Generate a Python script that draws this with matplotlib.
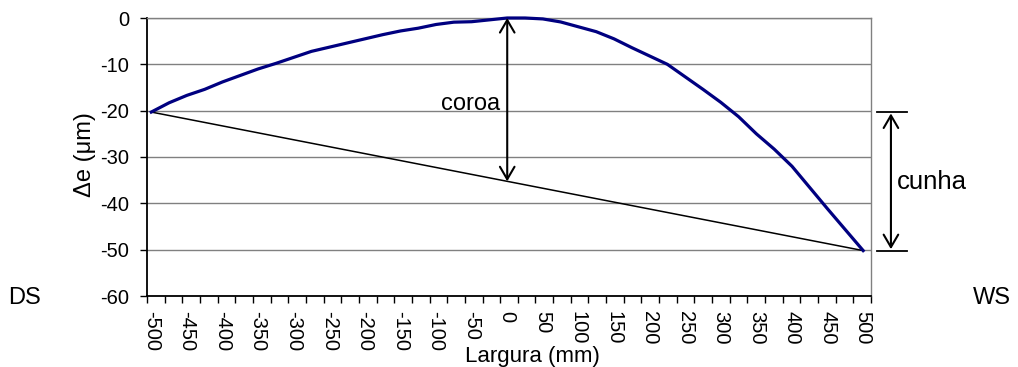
import numpy as np
import matplotlib
matplotlib.use("Agg")
import matplotlib.pyplot as plt

plt.rcParams['font.family'] = ['Liberation Sans', 'DejaVu Sans']
plt.rcParams['axes.unicode_minus'] = False

# largura (mm) e perfil de espessura (um)
largura = list(range(-500, 525, 25))
delta_e = [-20.3, -18.3, -16.7, -15.4, -13.8, -12.4, -11.0, -9.8, -8.5, -7.2,
           -6.3, -5.4, -4.5, -3.6, -2.8, -2.2, -1.4, -0.9, -0.8, -0.4,
           0.0, 0.0, -0.2, -0.85, -1.9, -2.95, -4.5, -6.4, -8.2, -10.0,
           -12.7, -15.4, -18.2, -21.3, -25.0, -28.3, -32.0, -36.6, -41.2, -45.7,
           -50.2]
x_ticks = list(range(-500, 550, 50))
y_ticks = [-60, -50, -40, -30, -20, -10, 0]

W, H = 1018, 367
fig = plt.figure(figsize=(W / 100, H / 100), dpi=100)
ax = fig.add_axes([147 / W, 1 - 296 / H, 724 / W, 278 / H])

xmin, xmax = -506, 511
ax.set_xlim(xmin, xmax)
ax.set_ylim(-60, 0)

# curva e corda entre as bordas
ax.plot(largura, delta_e, color='#000080', lw=2.3, clip_on=False, zorder=4)
ax.plot([largura[0], largura[-1]], [delta_e[0], delta_e[-1]], color='black', lw=1.1, zorder=3)

# grade e eixos
ax.yaxis.grid(True, color='#808080', lw=1)
ax.set_axisbelow(True)
for s in ['top', 'right']:
    ax.spines[s].set_color('#808080')
    ax.spines[s].set_linewidth(1)
for s in ['left', 'bottom']:
    ax.spines[s].set_color('black')
    ax.spines[s].set_linewidth(1.3)

ax.set_yticks(y_ticks)
ax.set_yticklabels([str(v) for v in y_ticks], fontsize=14.5)
ax.tick_params(axis='y', length=5, width=1, pad=8)

ax.set_xticks(x_ticks)
ax.set_xticklabels([str(v) for v in x_ticks], rotation=270, fontsize=14.5)
ax.set_xticks(np.linspace(xmin, xmax, 42), minor=True)
ax.tick_params(axis='x', which='major', length=0, pad=11)
ax.tick_params(axis='x', which='minor', length=5, width=1)

# coroa
corda0 = np.interp(0, [largura[0], largura[-1]], [delta_e[0], delta_e[-1]])
ax.annotate('', xy=(0, 0), xytext=(0, corda0),
            arrowprops=dict(arrowstyle='<->, head_length=0.6, head_width=0.35',
                            mutation_scale=15, lw=1.5, color='black',
                            shrinkA=0, shrinkB=0), zorder=5)
ax.text(-10, -18.6, 'coroa', ha='right', va='center', fontsize=17)

# cunha
xc = 539
ax.plot([520, 562], [delta_e[0], delta_e[0]], color='black', lw=1.3, clip_on=False)
ax.plot([520, 562], [delta_e[-1], delta_e[-1]], color='black', lw=1.3, clip_on=False)
ax.annotate('', xy=(xc, delta_e[0]), xytext=(xc, delta_e[-1]),
            arrowprops=dict(arrowstyle='<->, head_length=0.6, head_width=0.35',
                            mutation_scale=15, lw=1.5, color='black',
                            shrinkA=1, shrinkB=1), annotation_clip=False)
ax.text(548, -35.4, 'cunha', ha='left', va='center', fontsize=18.5, clip_on=False)

fig.text(8 / W, 1 - 298 / H, 'DS', ha='left', va='center', fontsize=17)
fig.text(973 / W, 1 - 298 / H, 'WS', ha='left', va='center', fontsize=17)
fig.text(532 / W, 1 - 362 / H, 'Largura (mm)', ha='center', va='baseline', fontsize=16)
fig.text(85 / W, 1 - 155 / H, 'Δe (μm)', rotation=90, ha='center', va='center', fontsize=17)

fig.savefig('out.png', dpi=100)
